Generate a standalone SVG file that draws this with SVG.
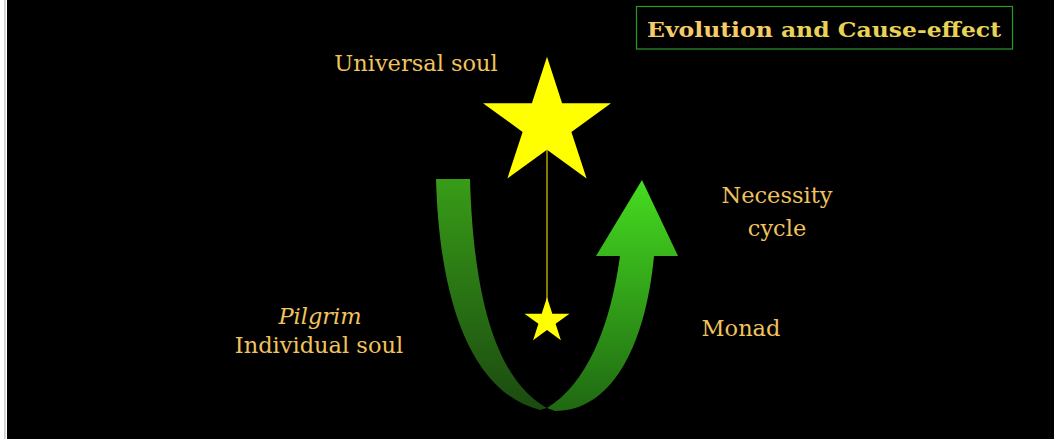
<svg xmlns="http://www.w3.org/2000/svg" width="1054" height="439" viewBox="0 0 1054 439">
<defs>
<linearGradient id="gl" x1="0" y1="0" x2="0" y2="1">
<stop offset="0" stop-color="#389c18"/>
<stop offset="1" stop-color="#1b4a10"/>
</linearGradient>
<linearGradient id="gr" x1="0" y1="0" x2="0" y2="1">
<stop offset="0" stop-color="#46dc20"/>
<stop offset="1" stop-color="#1f6812"/>
</linearGradient>
<style>
.lbl{font-family:"DejaVu Serif","Liberation Serif",serif;font-size:22.5px;fill:#f0c35e;text-anchor:middle}
.star{fill:#ffff00}
</style>
</defs>
<rect x="0" y="0" width="1054" height="439" fill="#ffffff"/>
<rect x="4" y="0" width="1.7" height="439" fill="#d0d0d0"/>
<rect x="7" y="0" width="1047" height="439" fill="#000000"/>
<g id="title">
<rect x="636.5" y="6.5" width="376" height="42.5" fill="none" stroke="#2a9a2a" stroke-width="1.2"/>
<text x="824" y="37" font-family="DejaVu Serif, Liberation Serif, serif" font-weight="bold" font-size="21" text-anchor="middle" textLength="354" lengthAdjust="spacingAndGlyphs"><tspan fill="#f6cc6a">Evolution</tspan><tspan fill="#e8d258"> and Cause-effect</tspan></text>
</g>
<g id="connectors">
<line x1="547" y1="150" x2="547" y2="300" stroke="#e0cc00" stroke-width="1.2"/>
</g>
<g id="left-band">
<path d="M436,179 L470,179 C474,320 505,385 547,408 L540,410 C480,395 440,320 436,179 Z" fill="url(#gl)"/>
</g>
<g id="right-arrow">
<path d="M642,180 L678,256 L654,256 C645,350 610,411 555,411 L547,408 C585,385 610,330 620,256 L596,256 Z" fill="url(#gr)"/>
</g>
<g id="universal-star">
<polygon class="star" points="547,56.7 562.1,103.2 611,103.2 571.4,131.9 586.6,178.4 547,149.7 507.4,178.4 522.6,131.9 483,103.2 531.9,103.2"/>
</g>
<g id="monad-star">
<polygon class="star" points="547,297.3 552.3,313.7 569.5,313.7 555.6,323.8 560.9,340.2 547,330.1 533.1,340.2 538.4,323.8 524.5,313.7 541.7,313.7"/>
</g>
<g id="universal-soul"><text class="lbl" x="416" y="71">Universal soul</text></g>
<g id="necessity"><text class="lbl" x="777" y="203">Necessity</text><text class="lbl" x="777" y="236">cycle</text></g>
<g id="monad"><text class="lbl" x="741" y="336">Monad</text></g>
<g id="pilgrim"><text class="lbl" x="320" y="324" font-style="italic">Pilgrim</text><text class="lbl" x="319" y="353">Individual soul</text></g>
</svg>
